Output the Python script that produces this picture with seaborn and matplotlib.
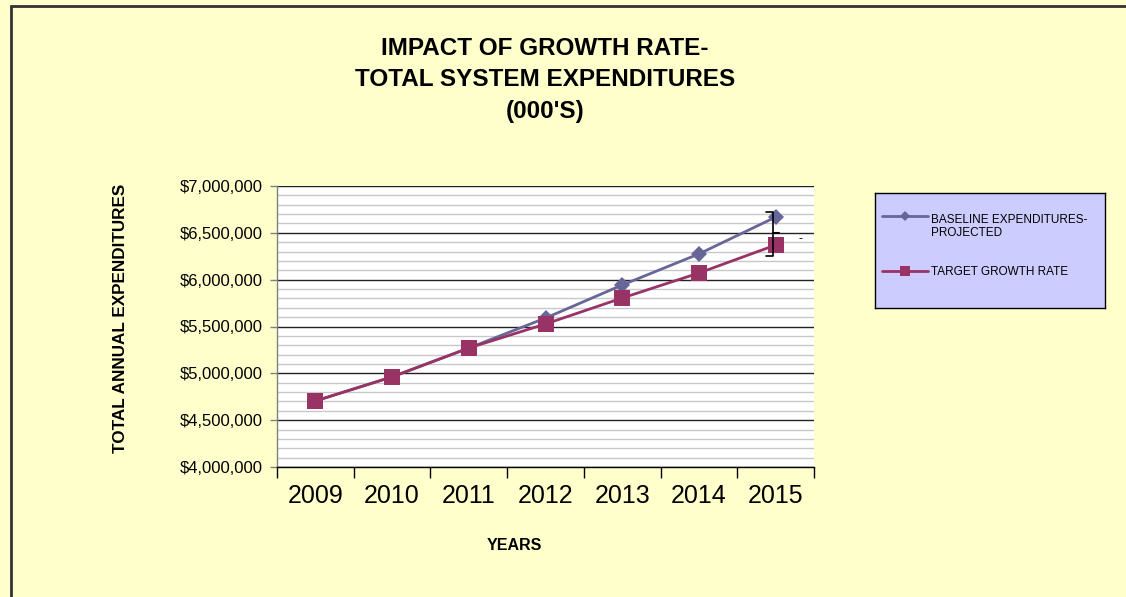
import matplotlib
matplotlib.use("Agg")
import matplotlib.pyplot as plt
import matplotlib.ticker as mticker
from matplotlib.patches import Rectangle
import seaborn as sns
import pandas as pd

years = [2009, 2010, 2011, 2012, 2013, 2014, 2015]
baseline = [4705000, 4962000, 5270000, 5590000, 5943000, 6275000, 6668000]
target = [4705000, 4962000, 5270000, 5527000, 5804000, 6071000, 6370000]
series_names = ["BASELINE EXPENDITURES-\nPROJECTED", "TARGET GROWTH RATE"]
bracket_range = [6253000, 6722000]
bracket_mid = 6498000

sns.set_theme(style="white")
plt.rcParams["font.family"] = ["Liberation Sans", "DejaVu Sans"]
plt.rcParams["text.color"] = "black"
plt.rcParams["axes.labelcolor"] = "black"
plt.rcParams["xtick.color"] = "black"
plt.rcParams["ytick.color"] = "black"

df = pd.DataFrame({
    "year": years * 2,
    "value": baseline + target,
    "series": [series_names[0]] * len(years) + [series_names[1]] * len(years),
})

W, H = 1126, 597
fig = plt.figure(figsize=(W / 100, H / 100), dpi=100)
fig.patch.set_facecolor("#FFFFCC")
fig.patches.append(Rectangle((11 / W, -0.1), 1.2, 0.1 + (1 - 6 / H),
                             transform=fig.transFigure, fill=False,
                             edgecolor="#333333", linewidth=2, zorder=10))

ax = fig.add_axes([277 / W, 1 - 467 / H, (814 - 277) / W, (467 - 186) / H])
ax.set_facecolor("white")

palette = {series_names[0]: "#666699", series_names[1]: "#993366"}
markers = {series_names[0]: "D", series_names[1]: "s"}
sizes = {series_names[0]: 8.5, series_names[1]: 11}
for name in series_names:
    sns.lineplot(data=df[df["series"] == name], x="year", y="value",
                 color=palette[name], marker=markers[name], markersize=sizes[name],
                 markeredgewidth=0, linewidth=2, ax=ax, legend=False, zorder=3)

# error bracket on the final year
x_end = years[-1]
ax.plot([x_end - 0.13, x_end - 0.04, x_end - 0.04, x_end - 0.13],
        [bracket_range[1], bracket_range[1], bracket_range[0], bracket_range[0]],
        color="black", linewidth=1.2, zorder=4)
ax.plot([x_end - 0.04, x_end + 0.04], [bracket_mid, bracket_mid], color="black",
        linewidth=1.5, zorder=4)
ax.text(x_end + 0.32, 6430000, "-", fontsize=9, ha="center", va="center",
        clip_on=False)

ax.set_xlim(years[0] - 0.5, years[-1] + 0.5)
ax.set_ylim(4000000, 7000000)

ax.yaxis.set_major_locator(mticker.MultipleLocator(500000))
ax.yaxis.set_minor_locator(mticker.MultipleLocator(100000))
ax.yaxis.set_major_formatter(mticker.FuncFormatter(lambda v, p: f"${v:,.0f}"))
ax.grid(axis="y", which="major", color="#222222", linewidth=1)
ax.grid(axis="y", which="minor", color="#C8C8C8", linewidth=1)
ax.set_axisbelow(True)

ax.set_xticks(years)
ax.set_xticklabels([str(y) for y in years], fontsize=18)
ax.set_xticks([y + 0.5 for y in [years[0] - 1] + years], minor=True)
ax.tick_params(axis="x", which="major", length=0, pad=12)
ax.tick_params(axis="x", which="minor", length=8, width=1, color="black", direction="out", bottom=True)
ax.tick_params(axis="y", which="major", length=5, width=1, color="#808080",
               direction="out", left=True, labelsize=12, pad=5)
ax.tick_params(axis="y", which="minor", length=0)

for side in ["top", "right"]:
    ax.spines[side].set_visible(False)
ax.spines["left"].set_color("#808080")
ax.spines["bottom"].set_color("black")
for s in ax.spines.values():
    s.set_linewidth(1)

ax.set_xlabel("YEARS", fontsize=11.5, fontweight="bold")
ax.xaxis.set_label_coords((514 - 277) / (814 - 277), -(545 - 467) / (467 - 186))
ax.set_ylabel("TOTAL ANNUAL EXPENDITURES", fontsize=12.3, fontweight="bold")
ax.yaxis.set_label_coords(-(277 - 121) / (814 - 277), (467 - 318) / (467 - 186))
ax.xaxis.label.set_va("center")
ax.yaxis.label.set_va("center")

fig.text(545 / W, 1 - 80 / H, "IMPACT OF GROWTH RATE-\nTOTAL SYSTEM EXPENDITURES\n(000'S)",
         ha="center", va="center", fontsize=17.5, fontweight="bold", linespacing=1.48)

# legend panel
lax = fig.add_axes([875 / W, 1 - 308 / H, (1105 - 875) / W, (308 - 193) / H])
lax.set_facecolor("#CCCCFF")
lax.set_xlim(0, 1)
lax.set_ylim(0, 1)
lax.set_xticks([])
lax.set_yticks([])
for s in lax.spines.values():
    s.set_color("black")
    s.set_linewidth(1)
rows = [(0.8, 0.71, series_names[0]), (0.32, 0.31, series_names[1])]
for (ly, ty, name) in rows:
    lax.plot([0.03, 0.23], [ly, ly], color=palette[name], linewidth=2)
    lax.plot([0.13], [ly], marker=markers[name], color=palette[name],
             markersize=5.5 if markers[name] == "D" else 6.5, markeredgewidth=0)
    lax.text(0.245, ty, name, fontsize=8.5, va="center", ha="left", linespacing=1.05)

fig.savefig("out.png", dpi=100, facecolor=fig.get_facecolor())
